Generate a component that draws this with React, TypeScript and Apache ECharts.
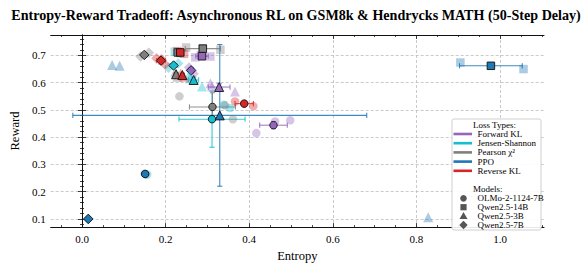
import React, { useEffect, useRef } from "react";
import * as echarts from "echarts";

const FONT = "'Liberation Serif', 'DejaVu Serif', serif";

const TITLE = "Entropy-Reward Tradeoff: Asynchronous RL on GSM8k & Hendrycks MATH (50-Step Delay)";
const LOSS_TYPES = ["Forward KL", "Jensen-Shannon", "Pearson χ²", "PPO", "Reverse KL"];
const LOSS_COLORS = ["#9467bd", "#17becf", "#7f7f7f", "#1f77b4", "#d62728"];
const MODELS = ["OLMo-2-1124-7B", "Qwen2.5-14B", "Qwen2.5-3B", "Qwen2.5-7B"];
const MODEL_SYMBOLS = ["circle", "rect", "triangle", "diamond"];
const MEAN_SIZES = [7.5, 7.5, 9, 9.5];
const RUN_SIZES = [8.5, 8.5, 10, 10.5];

// means per model: [entropy, reward, entropyStd, rewardStd] (order = MODELS)
const FKL_MEANS = [[0.458, 0.444, 0.033, 0.013], [0.287, 0.697, 0.015, 0.003], [0.328, 0.584, 0.026, 0.012], [0.261, 0.645, 0.006, 0.01]];
const JS_MEANS = [[0.311, 0.466, 0.079, 0.103], [0.229, 0.711, 0.006, 0.004], [0.267, 0.61, 0.012, 0.01], [0.219, 0.663, 0.008, 0.006]];
const PEARSON_MEANS = [[0.312, 0.511, 0.055, 0.052], [0.289, 0.725, 0.042, 0.004], [0.225, 0.631, 0.005, 0.005], [0.149, 0.702, 0.006, 0.004]];
const PPO_MEANS = [[0.151, 0.265, 0.002, 0.002], [0.978, 0.662, 0.075, 0.004], [0.3295, 0.48, 0.3515, 0.26], [0.015, 0.1, 0, 0]];
const RKL_MEANS = [[0.388, 0.523, 0.022, 0.007], [0.235, 0.711, 0.005, 0.003], [0.24, 0.628, 0.004, 0.004], [0.189, 0.681, 0.01, 0.012]];

// individual runs: [modelIndex, entropy, reward]
const FKL_RUNS = [[0, 0.462, 0.458], [0, 0.498, 0.462], [0, 0.417, 0.415], [1, 0.271, 0.693], [1, 0.307, 0.696], [1, 0.284, 0.701], [2, 0.307, 0.598], [2, 0.366, 0.568], [2, 0.311, 0.586], [3, 0.267, 0.633], [3, 0.256, 0.656], [3, 0.26, 0.646]];
const JS_RUNS = [[0, 0.339, 0.519], [0, 0.354, 0.507], [0, 0.156, 0.263], [1, 0.222, 0.714], [1, 0.236, 0.708], [2, 0.258, 0.616], [2, 0.287, 0.586], [2, 0.256, 0.628], [3, 0.207, 0.655], [3, 0.23, 0.67]];
const PEARSON_RUNS = [[0, 0.233, 0.55], [0, 0.361, 0.466], [0, 0.342, 0.517], [1, 0.249, 0.729], [1, 0.331, 0.721], [1, 0.288, 0.726], [2, 0.223, 0.64], [2, 0.228, 0.622], [3, 0.16, 0.71], [3, 0.14, 0.696]];
const PPO_RUNS = [[0, 0.152, 0.264], [0, 0.15, 0.266], [1, 0.905, 0.674], [1, 1.056, 0.65], [2, 0.072, 0.665], [2, 0.09, 0.662], [2, 0.828, 0.106], [3, 0.015, 0.1]];
const RKL_RUNS = [[0, 0.366, 0.531], [0, 0.41, 0.514], [0, 0.388, 0.524], [1, 0.228, 0.716], [1, 0.244, 0.706], [2, 0.236, 0.634], [2, 0.244, 0.622], [3, 0.178, 0.69], [3, 0.199, 0.667], [3, 0.19, 0.686]];

const ALL_MEANS = [FKL_MEANS, JS_MEANS, PEARSON_MEANS, PPO_MEANS, RKL_MEANS];
const ALL_RUNS = [FKL_RUNS, JS_RUNS, PEARSON_RUNS, PPO_RUNS, RKL_RUNS];

const X_MAJOR = [0, 0.2, 0.4, 0.6, 0.8, 1.0];
const Y_MAJOR = [0.1, 0.2, 0.3, 0.4, 0.5, 0.6, 0.7];
const X_MIN = -0.075, X_MAX = 1.105, Y_MIN = 0.07, Y_MAX = 0.775;

function minorValues(start: number, end: number, step: number, majors: number[]) {
  const out: number[] = [];
  for (let k = Math.ceil(start / step); k * step <= end + 1e-9; k++) {
    const v = +(k * step).toFixed(4);
    if (!majors.some((m) => Math.abs(m - v) < 1e-6)) out.push(v);
  }
  return out;
}
const X_MINOR = minorValues(X_MIN, X_MAX, 0.05, X_MAJOR);
const Y_MINOR = minorValues(Y_MIN, Y_MAX, 0.02, Y_MAJOR);

export default function App() {
  const ref = useRef<HTMLDivElement>(null);
  useEffect(() => {
    if (!ref.current) return;
    const chart = echarts.init(ref.current, null, { renderer: "svg" });
    const axisCol = "#111";
    const lbl = { fontFamily: FONT, fontSize: 11, color: "#000" };

    const mkX = (pos: string, vals: number[], len: number, main: boolean) => ({
      type: "value", min: X_MIN, max: X_MAX, position: pos,
      axisLine: { show: main, lineStyle: { color: axisCol, width: 1 } },
      axisTick: { show: true, inside: true, length: len, customValues: vals, lineStyle: { color: axisCol, width: 0.8 } },
      axisLabel: pos === "bottom" && main ? { show: true, customValues: vals, formatter: (v: number) => v.toFixed(1), margin: 6, ...lbl } : { show: false },
      splitLine: pos === "bottom" && main ? { show: true, lineStyle: { type: [3, 2], color: "#bdbdbd", width: 0.8 } } : { show: false },
      ...(pos === "bottom" && main ? { name: "Entropy", nameLocation: "middle", nameGap: 21, nameTextStyle: { fontFamily: FONT, fontSize: 12.5, color: "#000" } } : {}),
    });
    const mkY = (pos: string, vals: number[], len: number, main: boolean) => ({
      type: "value", min: Y_MIN, max: Y_MAX, position: pos,
      axisLine: { show: main, lineStyle: { color: axisCol, width: 1 } },
      axisTick: { show: true, inside: true, length: len, customValues: vals, lineStyle: { color: axisCol, width: 0.8 } },
      axisLabel: pos === "left" && main ? { show: true, customValues: vals, formatter: (v: number) => v.toFixed(1), margin: 5, ...lbl } : { show: false },
      splitLine: pos === "left" && main ? { show: true, lineStyle: { type: [3, 2], color: "#bdbdbd", width: 0.8 } } : { show: false },
      ...(pos === "left" && main ? { name: "Reward", nameLocation: "middle", nameGap: 26, nameTextStyle: { fontFamily: FONT, fontSize: 12.5, color: "#000" } } : {}),
    });

    const series: any[] = [];
    ALL_MEANS.forEach((means, li) => {
      const color = LOSS_COLORS[li];
      series.push({
        type: "scatter", name: LOSS_TYPES[li] + " runs", xAxisIndex: 0, yAxisIndex: 0,
        data: ALL_RUNS[li].map((r) => ({ value: [r[1], r[2]], symbol: MODEL_SYMBOLS[r[0]], symbolSize: RUN_SIZES[r[0]] })),
        itemStyle: { color, opacity: 0.38 },
        silent: true,
      });
      series.push({
        type: "custom", name: LOSS_TYPES[li] + " err", xAxisIndex: 0, yAxisIndex: 0,
        data: means.map((m) => m.slice()),
        encode: { x: 0, y: 1 },
        renderItem: (params: any, api: any) => {
          const x = api.value(0), y = api.value(1), ex = api.value(2), ey = api.value(3);
          const l = api.coord([x - ex, y]), r = api.coord([x + ex, y]);
          const t = api.coord([x, y + ey]), b = api.coord([x, y - ey]);
          const st = { stroke: color, lineWidth: 1.1, opacity: 0.85 };
          const cap = 2.6;
          const ch: any[] = [];
          if (r[0] - l[0] > 2) {
            ch.push({ type: "line", shape: { x1: l[0], y1: l[1], x2: r[0], y2: r[1] }, style: st });
            ch.push({ type: "line", shape: { x1: l[0], y1: l[1] - cap, x2: l[0], y2: l[1] + cap }, style: st });
            ch.push({ type: "line", shape: { x1: r[0], y1: r[1] - cap, x2: r[0], y2: r[1] + cap }, style: st });
          }
          if (b[1] - t[1] > 2) {
            ch.push({ type: "line", shape: { x1: t[0], y1: t[1], x2: b[0], y2: b[1] }, style: st });
            ch.push({ type: "line", shape: { x1: t[0] - cap, y1: t[1], x2: t[0] + cap, y2: t[1] }, style: st });
            ch.push({ type: "line", shape: { x1: b[0] - cap, y1: b[1], x2: b[0] + cap, y2: b[1] }, style: st });
          }
          return { type: "group", children: ch };
        },
        silent: true,
      });
      series.push({
        type: "scatter", name: LOSS_TYPES[li], xAxisIndex: 0, yAxisIndex: 0,
        data: means.map((m, mi) => ({ value: [m[0], m[1]], symbol: MODEL_SYMBOLS[mi], symbolSize: MEAN_SIZES[mi] })),
        itemStyle: { color, borderColor: "#111", borderWidth: 0.9, opacity: 1 },
        silent: true,
      });
    });

    // title + legend drawn as graphics
    const LX = 452, LY = 119;
    const g: any[] = [
      { type: "text", x: 296, y: 15, style: { text: TITLE, font: `bold 14.1px ${FONT}`, fill: "#000", textAlign: "center", textVerticalAlign: "middle" }, z: 101 },
      { type: "rect", shape: { x: LX, y: LY, width: 89, height: 111, r: 2 }, style: { fill: "rgba(255,255,255,0.9)", stroke: "#cfcfcf", lineWidth: 1 }, z: 100 },
      { type: "text", x: 473, y: 125, style: { text: "Loss Types:", font: `9px ${FONT}`, fill: "#000", textVerticalAlign: "middle" }, z: 101 },
      { type: "text", x: 473, y: 189, style: { text: "Models:", font: `9px ${FONT}`, fill: "#000", textVerticalAlign: "middle" }, z: 101 },
    ];
    LOSS_TYPES.forEach((name, i) => {
      const y = 134 + i * 9.2;
      g.push({ type: "line", shape: { x1: 453.5, y1: y, x2: 472, y2: y }, style: { stroke: LOSS_COLORS[i], lineWidth: 2.6 }, z: 101 });
      g.push({ type: "text", x: 477.5, y, style: { text: name, font: `9px ${FONT}`, fill: "#000", textVerticalAlign: "middle" }, z: 101 });
    });
    const mc = "#555";
    MODELS.forEach((name, i) => {
      const y = 198.3 + i * 8.9;
      const cx = 463.5;
      if (i === 0) g.push({ type: "circle", shape: { cx, cy: y, r: 3.3 }, style: { fill: mc }, z: 101 });
      if (i === 1) g.push({ type: "rect", shape: { x: cx - 3.1, y: y - 3.1, width: 6.2, height: 6.2 }, style: { fill: mc }, z: 101 });
      if (i === 2) g.push({ type: "polygon", shape: { points: [[cx, y - 4], [cx + 4, y + 3], [cx - 4, y + 3]] }, style: { fill: mc }, z: 101 });
      if (i === 3) g.push({ type: "polygon", shape: { points: [[cx, y - 4.2], [cx + 4.2, y], [cx, y + 4.2], [cx - 4.2, y]] }, style: { fill: mc }, z: 101 });
      g.push({ type: "text", x: 477.5, y, style: { text: name, font: `9px ${FONT}`, fill: "#000", textVerticalAlign: "middle" }, z: 101 });
    });

    chart.setOption({
      animation: false,
      backgroundColor: "#fff",
      grid: { left: 50, right: 43, top: 35, bottom: 34, show: false },
      xAxis: [mkX("bottom", X_MAJOR, 4, true), mkX("bottom", X_MINOR, 2, false), mkX("top", X_MAJOR, 4, true), mkX("top", X_MINOR, 2, false)],
      yAxis: [mkY("left", Y_MAJOR, 4, true), mkY("left", Y_MINOR, 2, false), mkY("right", Y_MAJOR, 4, true), mkY("right", Y_MINOR, 2, false)],
      series,
      graphic: g,
    });
    return () => chart.dispose();
  }, []);
  return <div ref={ref} style={{ width: 587, height: 267, position: "absolute", left: 0, top: 0 }} />;
}
